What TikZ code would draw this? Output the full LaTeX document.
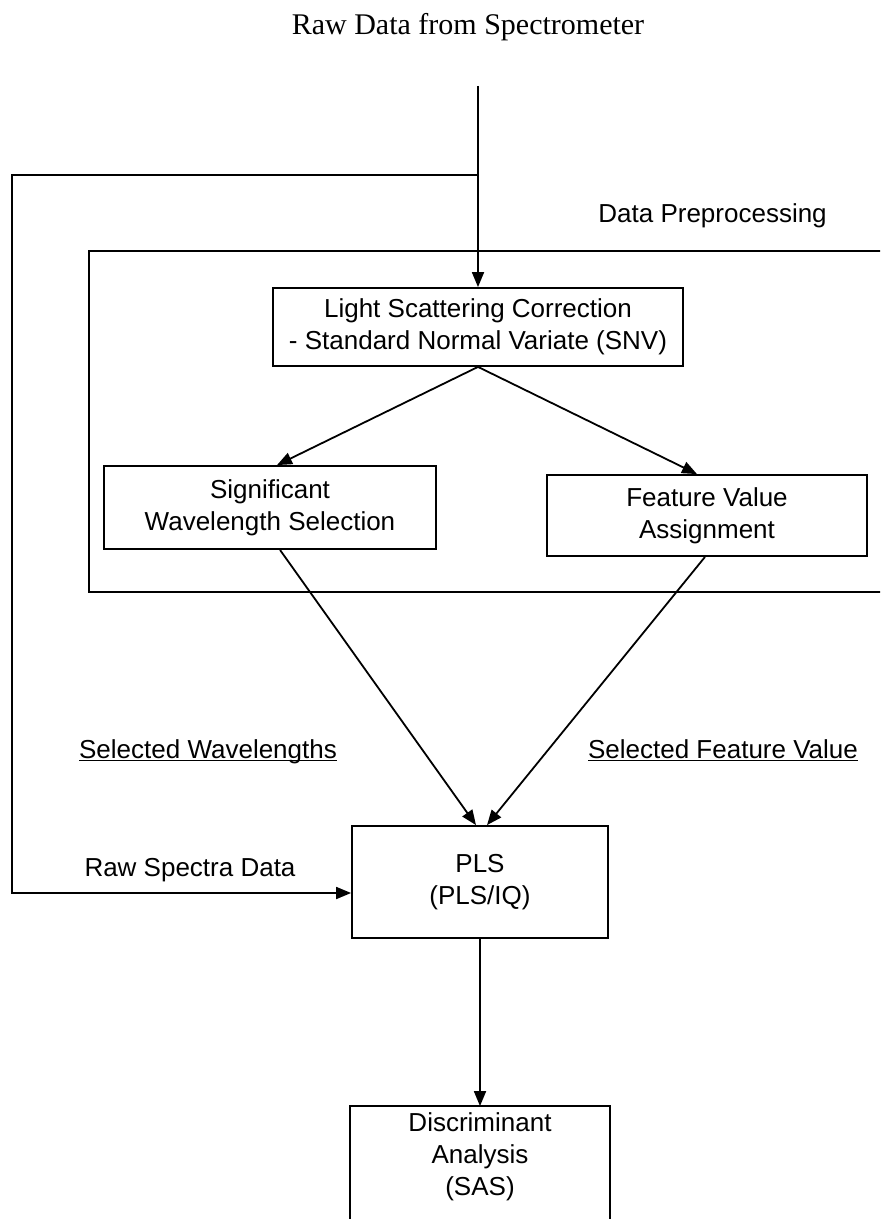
\documentclass[tikz,border=0pt]{standalone}
\usepackage{fontspec}
\setmainfont{Liberation Sans}
\newfontfamily\titlefont{Liberation Serif}
\usetikzlibrary{arrows.meta,positioning,calc}

\begin{document}
\begin{tikzpicture}[
    x=0.5pt, y=-0.5pt,
    box/.style={draw, line width=0.9pt, align=center, inner sep=0pt, font=\fontsize{13}{16}\selectfont},
    lbl/.style={inner sep=0pt, font=\fontsize{13}{16}\selectfont},
    arr/.style={-{Triangle[length=7.5pt,width=6pt]}, line width=0.9pt}
]
\useasboundingbox (0,0) rectangle (880,1219);
\clip (0,0) rectangle (880,1219);

\node[font=\titlefont\fontsize{15}{18}\selectfont] (title) at (468,27) {Raw Data from Spectrometer};

% preprocessing frame, runs off the right edge
\node[draw, line width=0.9pt, inner sep=0pt, minimum width=415.5pt, minimum height=170.5pt] (prep) at (504.5,421.5) {};
\node[lbl, anchor=west] (preplbl) at (598,216) {Data Preprocessing};

\node[box, minimum width=205pt, minimum height=39pt] (snv) at (478,327) {Light Scattering Correction\\- Standard Normal Variate (SNV)};
\node[box, minimum width=166pt, minimum height=41.5pt] (sws) at (270,507.5) {Significant\\Wavelength Selection};
\node[box, minimum width=160pt, minimum height=40.5pt] (fva) at (707,515.5) {Feature Value\\Assignment};
\node[box, minimum width=128pt, minimum height=56pt] (pls) at (480,882) {PLS\\(PLS/IQ)};
\node[box, draw=none, minimum width=129pt, minimum height=50pt] (da) at (480,1157) {Discriminant\\Analysis\\(SAS)};
\draw[line width=0.9pt] (da.north west) rectangle ($(da.south east)+(0,60)$);

\node[lbl] (selwl) at (208,760) {\underline{\smash{Selected Wavelengths}}};
\node[lbl] (selfv) at (723,760) {\underline{\smash{Selected Feature Value}}};
\node[lbl] (rawlbl) at (190,870) {Raw Spectra Data};

\coordinate (src) at (478,86);
\coordinate (tap) at (478,175);
\coordinate (corner) at (12,893);

\draw[arr] (src) -- (src |- snv.north);
\draw[arr] (tap) -| (corner) -- (corner -| pls.west);
\draw[arr] (snv.south) -- ([xshift=3.5pt]sws.north);
\draw[arr] (snv.south) -- ([xshift=-5pt]fva.north);
\draw[arr] ([xshift=5pt]sws.south) -- ([xshift=-2pt]pls.north);
\draw[arr] ([xshift=-1pt]fva.south) -- ([xshift=3.5pt]pls.north);
\draw[arr] (pls.south) -- (da.north);
\end{tikzpicture}
\end{document}
